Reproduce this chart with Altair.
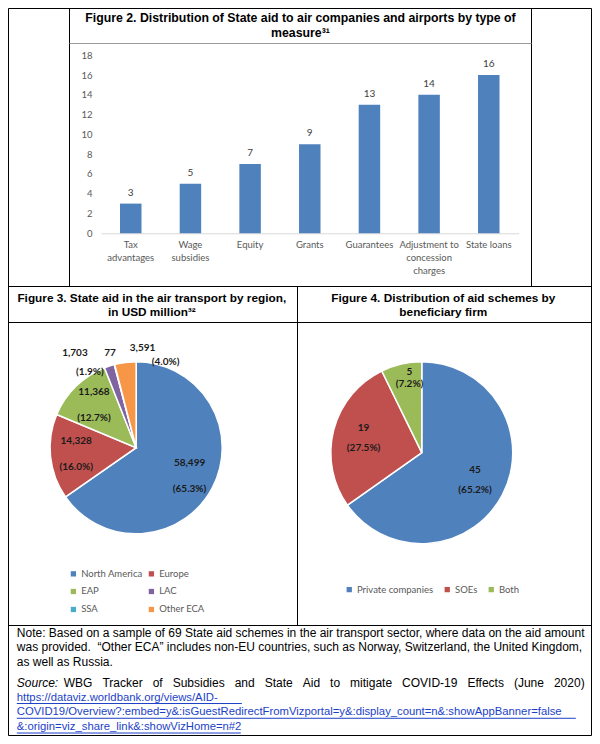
import altair as alt
import pandas as pd

# ---------------- data ----------------
measure_names = ["Tax\nadvantages", "Wage\nsubsidies", "Equity", "Grants",
                 "Guarantees", "Adjustment to\nconcession\ncharges", "State loans"]
measure_counts = [3, 5, 7, 9, 13, 14, 16]
count_ticks = [0, 2, 4, 6, 8, 10, 12, 14, 16, 18]

regions = ["North America", "Europe", "EAP", "LAC", "SSA", "Other ECA"]
region_aid_usd_m = [58499, 14328, 11368, 1703, 77, 3591]
region_colors = ["#4F81BD", "#C0504D", "#9BBB59", "#8064A2", "#4BACC6", "#F79646"]

firm_types = ["Private companies", "SOEs", "Both"]
firm_schemes = [45, 19, 5]
firm_colors = ["#4F81BD", "#C0504D", "#9BBB59"]

title_fig2 = ["Figure 2. Distribution of State aid to air companies and airports by type of",
              "measure\u00b3\u00b9"]
title_fig3 = ["Figure 3. State aid in the air transport by region,", "in USD million\u00b3\u00b2"]
title_fig4 = ["Figure 4. Distribution of aid schemes by", "beneficiary firm"]
note_lines = [
    "Note: Based on a sample of 69 State aid schemes in the air transport sector, where data on the aid amount",
    "was provided.\u00a0 \u201cOther ECA\u201d includes non-EU countries, such as Norway, Switzerland, the United Kingdom,",
    "as well as Russia.",
]
source_label = "Source:"
source_words = ["WBG", "Tracker", "of", "Subsidies", "and", "State", "Aid", "to", "mitigate",
                "COVID-19", "Effects", "(June", "2020)"]
source_url_lines = [
    "https://dataviz.worldbank.org/views/AID-",
    "COVID19/Overview?:embed=y&:isGuestRedirectFromVizportal=y&:display_count=n&:showAppBanner=false",
    "&:origin=viz_share_link&:showVizHome=n#2",
]

# ---------------- layout (reference grid 600x744 fitted into 584x728) ----------------
W, H = 584, 728
KX, KY = 583.0 / 596.0, 727.0 / 739.0


def X(v):
    return round((v - 1) * KX, 2)


def Y(v):
    return round((v - 3) * KY, 2)


def LX(v):
    return round((v - 1) * KX) + 0.5


def LY(v):
    return round((v - 3) * KY) + 0.5


TEXT_FONT = "Liberation Sans"
CHART_FONT = "Lato"
URL_COLOR = "#1B3FC8"
one = pd.DataFrame({"k": [0]})


def label(text, x, y, size=12.0, weight="normal", style="normal", color="#000000",
          align="center", font=TEXT_FONT):
    return alt.Chart(one).mark_text(
        text=text, fontSize=size, fontWeight=weight, fontStyle=style, color=color,
        align=align, baseline="middle", font=font
    ).encode(x=alt.value(X(x)), y=alt.value(Y(y)))


# ---------------- table frame ----------------
frame = [
    (1, 597, 3, 3, "#000000"),
    (1, 597, 742, 742, "#000000"),
    (1, 1, 3, 742, "#000000"),
    (597, 597, 3, 742, "#000000"),
    (63, 63, 3, 286, "#000000"),
    (536, 536, 3, 286, "#000000"),
    (63, 536, 39, 39, "#9A9A9A"),
    (1, 597, 286, 286, "#000000"),
    (1, 597, 322, 322, "#000000"),
    (296, 296, 286, 630, "#000000"),
    (1, 597, 630, 630, "#000000"),
]
frame_df = pd.DataFrame([{"x": LX(a), "x2": LX(b), "y": LY(c), "y2": LY(d), "c": col}
                         for a, b, c, d, col in frame])
frame_rules = alt.Chart(frame_df).mark_rule(strokeWidth=1).encode(
    x=alt.X("x:Q", scale=None, axis=None), x2="x2:Q",
    y=alt.Y("y:Q", scale=None, axis=None), y2="y2:Q",
    color=alt.Color("c:N", scale=None, legend=None),
)

# hyperlink underlines (start x, text width in px, baseline y)
url_underlines = [(10, 225, 710), (10, 559, 725), (10, 224, 740)]
ul_df = pd.DataFrame([{"x": X(a), "x2": X(a) + w, "y": Y(c)} for a, w, c in url_underlines])
ul_rules = alt.Chart(ul_df).mark_rule(strokeWidth=1, color=URL_COLOR).encode(
    x=alt.X("x:Q", scale=None, axis=None), x2="x2:Q",
    y=alt.Y("y:Q", scale=None, axis=None),
)

# ---------------- Figure 2: bars ----------------
bar_df = pd.DataFrame({"measure": measure_names, "count": measure_counts})
bx = alt.X("measure:N", sort=measure_names,
           scale=alt.Scale(range=[X(96), X(523)], paddingInner=0.64, paddingOuter=0.32),
           axis=alt.Axis(title=None, labelAngle=0, labelExpr="split(datum.label, '\\n')",
                         ticks=False, tickSize=0, domainColor="#D9D9D9", domainWidth=1,
                         labelColor="#595959", labelFont=CHART_FONT, labelFontSize=9.5,
                         labelPadding=6, labelLineHeight=13, labelBaseline="top",
                         offset=Y(232) - H, grid=False, labelLimit=0))
by = alt.Y("count:Q",
           scale=alt.Scale(domain=[0, 18], range=[Y(232), Y(51)], nice=False),
           axis=alt.Axis(title=None, values=count_ticks, ticks=False, tickSize=0, domain=False,
                         grid=False, labelColor="#595959", labelFont=CHART_FONT,
                         labelFontSize=9.5, labelPadding=2, offset=-X(89)))
bars = alt.Chart(bar_df).mark_bar(color="#4F81BD").encode(x=bx, y=by)
bar_text = alt.Chart(bar_df).mark_text(baseline="bottom", dy=-6, font=CHART_FONT, fontSize=10,
                                       color="#404040").encode(x=bx, y=by, text="count:Q")
fig2 = alt.layer(bars, bar_text)

# ---------------- Figure 3: pie by region ----------------
reg_df = pd.DataFrame({"region": regions, "aid": region_aid_usd_m, "k": list(range(len(regions)))})
R1 = 88 * KX
C1x, C1y = X(132), Y(450)
base1 = alt.Chart(reg_df).transform_joinaggregate(total="sum(aid)").transform_calculate(
    pct="datum.aid / datum.total",
    vtxt="format(datum.aid, ',')",
    ptxt="'(' + format(datum.aid / datum.total, '.1%') + ')'",
)
enc1 = dict(theta=alt.Theta("aid:Q", stack=True), order=alt.Order("k:Q"),
            x=alt.value(C1x), y=alt.value(C1y))
arc1 = base1.mark_arc(outerRadius=R1, stroke="white", strokeWidth=1.5).encode(
    color=alt.Color("region:N", scale=alt.Scale(domain=regions, range=region_colors),
                    legend=alt.Legend(title=None, orient="none", legendX=X(63), legendY=Y(573),
                                      columns=2, direction="horizontal", symbolType="square",
                                      symbolSize=28, symbolStrokeWidth=0, labelFont=CHART_FONT,
                                      labelFontSize=9.5, labelColor="#595959", labelOffset=3,
                                      columnPadding=4, rowPadding=7)),
    **enc1)


def pie_text(base, enc, group, expr, radius, dx=0, dy=0):
    return base.transform_calculate(lbl=expr).mark_text(
        radius=radius, dx=dx, dy=dy, font=CHART_FONT, fontSize=10, fontWeight="bold",
        color="#1A1A1A", align="center", baseline="middle"
    ).encode(text="lbl:N", detail=group, **enc)


g1 = alt.Detail("region:N")
pie1_layers = [
    arc1,
    pie_text(base1, enc1, g1, "datum.pct >= 0.1 ? datum.vtxt : ''", R1 * 0.7, dy=-13),
    pie_text(base1, enc1, g1, "datum.pct >= 0.1 ? datum.ptxt : ''", R1 * 0.7, dy=13),
    pie_text(base1, enc1, g1, "datum.region == 'LAC' ? datum.vtxt : ''", R1 + 14, dx=-30),
    pie_text(base1, enc1, g1, "datum.region == 'LAC' ? datum.ptxt : ''", R1 + 14, dx=-15, dy=19),
    pie_text(base1, enc1, g1, "datum.region == 'SSA' ? datum.vtxt : ''", R1 + 14, dx=-1, dy=2),
    pie_text(base1, enc1, g1, "datum.region == 'Other ECA' ? datum.vtxt : ''", R1 + 14, dx=19),
    pie_text(base1, enc1, g1, "datum.region == 'Other ECA' ? datum.ptxt : ''", R1 + 14, dx=42, dy=14),
]
fig3 = alt.layer(*pie1_layers)

# ---------------- Figure 4: pie by firm ----------------
firm_df = pd.DataFrame({"firm": firm_types, "schemes": firm_schemes, "k": list(range(len(firm_types)))})
R2 = 93 * KX
C2x, C2y = X(424), Y(455)
base2 = alt.Chart(firm_df).transform_joinaggregate(total="sum(schemes)").transform_calculate(
    pct="datum.schemes / datum.total",
    vtxt="format(datum.schemes, ',')",
    ptxt="'(' + format(datum.schemes / datum.total, '.1%') + ')'",
)
enc2 = dict(theta=alt.Theta("schemes:Q", stack=True), order=alt.Order("k:Q"),
            x=alt.value(C2x), y=alt.value(C2y))
arc2 = base2.mark_arc(outerRadius=R2, stroke="white", strokeWidth=1.5).encode(
    color=alt.Color("firm:N", scale=alt.Scale(domain=firm_types, range=firm_colors),
                    legend=alt.Legend(title=None, orient="none", legendX=X(345), legendY=Y(589),
                                      direction="horizontal", symbolType="square",
                                      symbolSize=28, symbolStrokeWidth=0, labelFont=CHART_FONT,
                                      labelFontSize=9.5, labelColor="#595959", labelOffset=3,
                                      columnPadding=9)),
    **enc2)
g2 = alt.Detail("firm:N")
pie2_layers = [
    arc2,
    pie_text(base2, enc2, g2, "datum.pct >= 0.1 ? datum.vtxt : ''", R2 * 0.66, dy=-10),
    pie_text(base2, enc2, g2, "datum.pct >= 0.1 ? datum.ptxt : ''", R2 * 0.66, dy=10),
    pie_text(base2, enc2, g2, "datum.pct < 0.1 ? datum.vtxt : ''", R2 * 0.84, dx=5, dy=-6),
    pie_text(base2, enc2, g2, "datum.pct < 0.1 ? datum.ptxt : ''", R2 * 0.84, dx=5, dy=6),
]
fig4 = alt.layer(*pie2_layers)

# ---------------- titles & notes ----------------
texts = [
    label(title_fig2[0], 300, 13, size=12.3, weight="bold"),
    label(title_fig2[1], 300, 28, size=12.3, weight="bold"),
    label(title_fig3[0], 148, 298, size=11.8, weight="bold"),
    label(title_fig3[1], 148, 312, size=11.8, weight="bold"),
    label(title_fig4[0], 446, 298, size=11.8, weight="bold"),
    label(title_fig4[1], 446, 312, size=11.8, weight="bold"),
    label(note_lines[0], 10, 638, align="left"),
    label(note_lines[1], 10, 653, align="left"),
    label(note_lines[2], 10, 668, align="left"),
    label(source_label, 10, 689, style="italic", align="left"),
    label(" \u00a0\u00a0".join(source_words), 58, 689, align="left"),
    label(source_url_lines[0], 10, 704, size=11.3, align="left", color=URL_COLOR),
    label(source_url_lines[1], 10, 719, size=11.3, align="left", color=URL_COLOR),
    label(source_url_lines[2], 10, 734, size=11.3, align="left", color=URL_COLOR),
]

chart = alt.layer(frame_rules, ul_rules, *texts, fig2, fig3, fig4).resolve_scale(
    x="independent", y="independent", theta="independent", color="independent"
).properties(
    width=W, height=H, autosize=alt.AutoSizeParams(type="none"), padding=0
).configure_view(stroke=None).configure(background="white")

chart.save("out.html", embed_options={"renderer": "svg", "actions": False})
